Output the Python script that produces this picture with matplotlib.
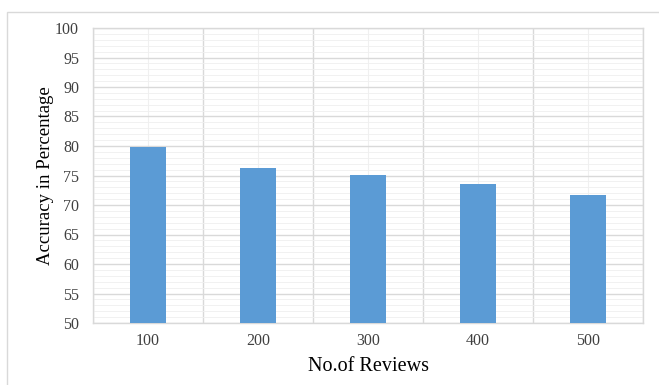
import matplotlib
matplotlib.use("Agg")
import matplotlib.pyplot as plt
from matplotlib.patches import Rectangle
import numpy as np

categories = ["100", "200", "300", "400", "500"]
accuracy = [79.8, 76.3, 75.1, 73.6, 71.7]
yticks = [50, 55, 60, 65, 70, 75, 80, 85, 90, 95, 100]

plt.rcParams['font.family'] = ['Liberation Serif', 'DejaVu Serif']

W, H = 659, 385
fig = plt.figure(figsize=(W/100, H/100), dpi=100)
fig.patch.set_facecolor('white')

# outer chart frame
fig.patches.append(Rectangle((7/W, -0.01), 1.0, (H-12)/H + 0.01, transform=fig.transFigure,
                             fill=False, edgecolor='#d9d9d9', linewidth=1.0))

ax = fig.add_axes([93/W, (H-323)/H, 550/W, 295/H])
x = np.arange(len(categories))
ax.bar(x, accuracy, width=0.32, color='#5b9bd5', zorder=3)

ax.set_xlim(-0.5, len(categories) - 0.5)
ax.set_ylim(50, 100)
ax.set_yticks(yticks)
ax.set_yticks(np.arange(50, 101, 1), minor=True)
ax.set_xticks(x)
ax.set_xticklabels(categories)
ax.set_xticks(np.arange(-0.5, len(categories), 1.0), minor=True)

# grids
ax.grid(True, which='major', axis='y', color='#d9d9d9', linewidth=1.0, zorder=0)
ax.grid(True, which='minor', axis='y', color='#efefef', linewidth=0.6, zorder=0)
ax.grid(True, which='minor', axis='x', color='#d9d9d9', linewidth=1.0, zorder=0)
ax.grid(True, which='major', axis='x', color='#f0f0f0', linewidth=0.8, zorder=0)

ax.tick_params(axis='both', which='both', length=0)
ax.tick_params(axis='y', labelsize=11.5, colors='#404040', pad=10)
ax.tick_params(axis='x', labelsize=11.5, colors='#404040', pad=7)
for lab in ax.get_yticklabels():
    lab.set_horizontalalignment('right')

for s in ax.spines.values():
    s.set_color('#d9d9d9')
    s.set_linewidth(1.0)

ax.set_ylabel("Accuracy in Percentage", fontsize=13.5, color='#000000', labelpad=1)
ax.set_xlabel("No.of Reviews", fontsize=14.5, color='#000000', labelpad=6)

fig.savefig("out.png", dpi=100)
